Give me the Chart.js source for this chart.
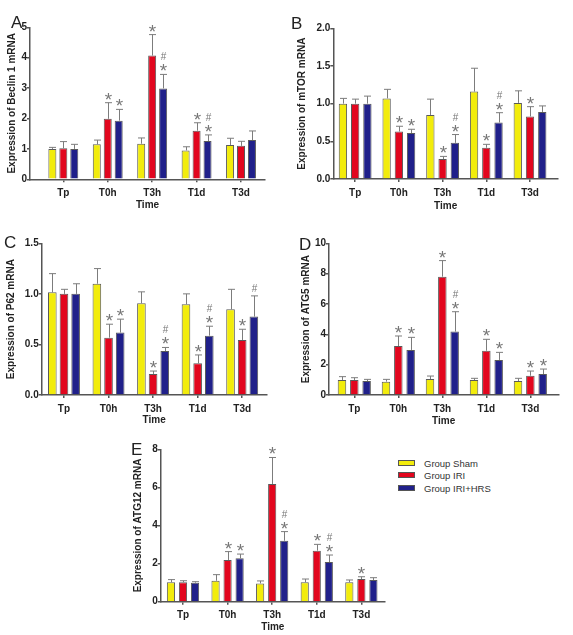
<!DOCTYPE html>
<html><head><meta charset="utf-8">
<script src="https://cdn.jsdelivr.net/npm/chart.js@4.4.1/dist/chart.umd.min.js"></script>
<style>
html,body{margin:0;padding:0;background:#fff;}
body{width:573px;height:635px;position:relative;overflow:hidden;font-family:"Liberation Sans",Arial,sans-serif;}
canvas{position:absolute;}
.lt{position:absolute;font-size:17px;line-height:17px;color:#222;}
.lg{position:absolute;left:398px;height:12px;line-height:12px;font-size:9.5px;color:#333;white-space:nowrap;}
.sw{display:inline-block;width:15px;height:4px;border:1px solid #555;vertical-align:middle;margin-right:9px;position:relative;top:-1px;}
</style></head><body>
<canvas id="cA"></canvas><canvas id="cB"></canvas><canvas id="cC"></canvas><canvas id="cD"></canvas><canvas id="cE"></canvas>
<div class="lt" style="left:11px;top:14px;">A</div>
<div class="lt" style="left:291px;top:15px;">B</div>
<div class="lt" style="left:4px;top:234px;">C</div>
<div class="lt" style="left:299px;top:236px;">D</div>
<div class="lt" style="left:131px;top:441px;">E</div>
<div id="legend"></div>
<script>
// ---------- data ----------
const categories = ['Tp', 'T0h', 'T3h', 'T1d', 'T3d'];
const seriesNames = ['Group Sham', 'Group IRI', 'Group IRI+HRS'];
const seriesColors = ['#f2ec0c', '#e2061e', '#20208a'];

// A: Beclin 1
const beclinSham = [1.00, 1.15, 1.17, 0.95, 1.13];
const beclinShamSD = [0.05, 0.14, 0.19, 0.12, 0.22];
const beclinIRI = [1.02, 1.99, 4.07, 1.60, 1.10];
const beclinIRISD = [0.22, 0.53, 0.69, 0.26, 0.15];
const beclinHRS = [1.00, 1.93, 2.99, 1.26, 1.29];
const beclinHRSSD = [0.15, 0.37, 0.46, 0.20, 0.30];
const beclinIRIMarks = ['', '*', '*', '*', ''];
const beclinHRSMarks = ['', '*', '#*', '#*', ''];

// B: mTOR
const mtorSham = [1.00, 1.07, 0.85, 1.16, 1.01];
const mtorShamSD = [0.07, 0.12, 0.21, 0.31, 0.16];
const mtorIRI = [1.00, 0.63, 0.265, 0.415, 0.83];
const mtorIRISD = [0.06, 0.07, 0.035, 0.045, 0.13];
const mtorHRS = [1.00, 0.61, 0.48, 0.75, 0.89];
const mtorHRSSD = [0.10, 0.05, 0.11, 0.13, 0.08];
const mtorIRIMarks = ['', '*', '*', '*', '*'];
const mtorHRSMarks = ['', '*', '#*', '#*', ''];

// C: P62
const p62Sham = [1.015, 1.10, 0.907, 0.897, 0.847];
const p62ShamSD = [0.185, 0.15, 0.113, 0.103, 0.198];
const p62IRI = [1.00, 0.567, 0.208, 0.313, 0.544];
const p62IRISD = [0.045, 0.133, 0.029, 0.083, 0.106];
const p62HRS = [1.00, 0.617, 0.435, 0.587, 0.775];
const p62HRSSD = [0.10, 0.133, 0.035, 0.093, 0.205];
const p62IRIMarks = ['', '*', '*', '*', '*'];
const p62HRSMarks = ['', '*', '#*', '#*', '#'];

// D: ATG5
const atg5Sham = [0.99, 0.88, 1.05, 0.99, 0.92];
const atg5ShamSD = [0.22, 0.15, 0.20, 0.11, 0.18];
const atg5IRI = [0.99, 3.23, 7.80, 2.92, 1.27];
const atg5IRISD = [0.15, 0.66, 1.06, 0.75, 0.31];
const atg5HRS = [0.92, 2.97, 4.18, 2.31, 1.38];
const atg5HRSSD = [0.11, 0.83, 1.31, 0.50, 0.33];
const atg5IRIMarks = ['', '*', '*', '*', '*'];
const atg5HRSMarks = ['', '*', '#*', '*', '*'];

// E: ATG12
const atg12Sham = [1.02, 1.10, 0.96, 1.02, 1.02];
const atg12ShamSD = [0.14, 0.32, 0.13, 0.17, 0.12];
const atg12IRI = [1.02, 2.19, 6.18, 2.68, 1.19];
const atg12IRISD = [0.08, 0.44, 1.39, 0.33, 0.12];
const atg12HRS = [1.00, 2.28, 3.20, 2.08, 1.14];
const atg12HRSSD = [0.05, 0.22, 0.48, 0.37, 0.12];
const atg12IRIMarks = ['', '*', '*', '*', '*'];
const atg12HRSMarks = ['', '*', '#*', '#*', ''];

const noMarks = ['', '', '', '', ''];

// ---------- plugin: error bars + significance marks ----------
const errorBarPlugin = {
  id: 'errorBars',
  afterDatasetsDraw(chart) {
    const ctx = chart.ctx, y = chart.scales.y;
    chart.data.datasets.forEach((ds, di) => {
      const meta = chart.getDatasetMeta(di);
      meta.data.forEach((bar, i) => {
        const top = y.getPixelForValue(ds.data[i] + ds.sd[i]);
        const x = Math.round(bar.x) + 0.5;
        ctx.save();
        ctx.strokeStyle = '#7c7c7c';
        ctx.lineWidth = 1;
        ctx.beginPath();
        ctx.moveTo(x, bar.y);
        ctx.lineTo(x, top);
        ctx.moveTo(x - 3.5, top);
        ctx.lineTo(x + 3.5, top);
        ctx.stroke();
        const mk = ds.marks[i] || '';
        let cy = top - 6.5;
        for (let k = mk.length - 1; k >= 0; k--) {
          const ch = mk[k];
          ctx.font = ch === '*' ? '19px "Liberation Sans"' : '10px "Liberation Sans"';
          ctx.fillStyle = '#777';
          ctx.textAlign = 'center';
          ctx.textBaseline = 'alphabetic';
          const m = ctx.measureText(ch);
          const off = (m.actualBoundingBoxAscent - m.actualBoundingBoxDescent) / 2;
          ctx.fillText(ch, x, (ch === '#' && k === mk.length - 1 ? cy - 1.5 : cy) + off);
          cy -= 11.5;
        }
        ctx.restore();
      });
    });
  }
};

const FONT = '"Liberation Sans", Arial, sans-serif';
const AX = '#555';

function makePanel(id, g, yTitle, yMax, yStep, dec, sets) {
  const cv = document.getElementById(id);
  cv.width = g.w; cv.height = g.h;
  cv.style.left = g.x + 'px'; cv.style.top = g.y + 'px';
  const yw = g.l - g.x, pt = g.t - g.y, pr = g.x + g.w - g.r, xh = g.y + g.h - g.b;
  const datasets = sets.map((s, k) => ({
    label: seriesNames[k], data: s[0], sd: s[1], marks: s[2],
    backgroundColor: seriesColors[k], borderColor: '#5a5a5a', borderWidth: 1,
    categoryPercentage: g.cp, barPercentage: g.bp
  }));
  return new Chart(cv, {
    type: 'bar',
    data: { labels: categories, datasets },
    plugins: [errorBarPlugin],
    options: {
      responsive: false, animation: false, devicePixelRatio: 1,
      layout: { padding: { left: 0, top: pt, right: pr, bottom: 0 } },
      plugins: { legend: { display: false }, tooltip: { enabled: false } },
      scales: {
        x: {
          type: 'category', offset: true,
          grid: { display: true, drawOnChartArea: false, drawTicks: true, tickLength: 3, offset: false, color: AX, lineWidth: 1.5 },
          border: { display: true, color: AX, width: 1.5 },
          ticks: { color: '#222', font: { family: FONT, size: 10, weight: 'bold' }, padding: 5, maxRotation: 0, autoSkip: false },
          title: { display: true, text: 'Time', color: '#222', font: { family: FONT, size: 10, weight: 'bold' }, padding: { top: 0, bottom: g.xtp } },
          afterFit: s => { s.height = xh; },
          afterBuildTicks: s => { s._startValue = -0.5 - g.lead; s._valueRange = categories.length + g.lead + g.trail; }
        },
        y: {
          min: 0, max: yMax,
          grid: { display: true, drawOnChartArea: false, drawTicks: true, tickLength: 3, color: AX, lineWidth: 1.5 },
          border: { display: true, color: AX, width: 1.5 },
          ticks: { stepSize: yStep, color: '#222', font: { family: FONT, size: 10, weight: 'bold' }, padding: 0,
                   callback: v => Number(v).toFixed(dec) },
          title: { display: true, text: yTitle, color: '#222', font: { family: FONT, size: 10, weight: 'bold' }, padding: { top: g.ytp, bottom: 0 } },
          afterFit: s => { s.width = yw; }
        }
      }
    }
  });
}

makePanel('cA', { x: 0, y: 0, w: 285, h: 215, l: 30, t: 27.3, r: 265, b: 179.3, lead: 0.25, trail: 0.04, cp: 0.74, bp: 0.73, ytp: 6.5, xtp: 4 },
  'Expression of Beclin 1 mRNA', 5, 1, 0,
  [[beclinSham, beclinShamSD, noMarks], [beclinIRI, beclinIRISD, beclinIRIMarks], [beclinHRS, beclinHRSSD, beclinHRSMarks]]);

makePanel('cB', { x: 285, y: 0, w: 288, h: 215, l: 333.3, t: 28.3, r: 558, b: 179, lead: 0, trail: 0.14, cp: 0.84, bp: 0.68, ytp: 11, xtp: 3 },
  'Expression of mTOR mRNA', 2, 0.5, 1,
  [[mtorSham, mtorShamSD, noMarks], [mtorIRI, mtorIRISD, mtorIRIMarks], [mtorHRS, mtorHRSSD, mtorHRSMarks]]);

makePanel('cC', { x: 0, y: 225, w: 285, h: 215, l: 41.7, t: 243.3, r: 266.7, b: 395, lead: 0, trail: 0.05, cp: 0.785, bp: 0.74, ytp: 5, xtp: 14 },
  'Expression of P62 mRNA', 1.5, 0.5, 1,
  [[p62Sham, p62ShamSD, noMarks], [p62IRI, p62IRISD, p62IRIMarks], [p62HRS, p62HRSSD, p62HRSMarks]]);

makePanel('cD', { x: 285, y: 225, w: 288, h: 215, l: 329, t: 243.3, r: 558.3, b: 395, lead: 0.075, trail: 0.135, cp: 0.84, bp: 0.69, ytp: 15.5, xtp: 13 },
  'Expression of ATG5 mRNA', 10, 2, 0,
  [[atg5Sham, atg5ShamSD, noMarks], [atg5IRI, atg5IRISD, atg5IRIMarks], [atg5HRS, atg5HRSSD, atg5HRSMarks]]);

makePanel('cE', { x: 130, y: 430, w: 260, h: 205, l: 160.7, t: 449.3, r: 385, b: 601.7, lead: 0, trail: 0.03, cp: 0.81, bp: 0.68, ytp: 2, xtp: 1.5 },
  'Expression of ATG12 mRNA', 8, 2, 0,
  [[atg12Sham, atg12ShamSD, noMarks], [atg12IRI, atg12IRISD, atg12IRIMarks], [atg12HRS, atg12HRSSD, atg12HRSMarks]]);

// legend
const lg = document.getElementById('legend');
const rowTops = [457.5, 470, 482.5];
seriesNames.forEach((n, k) => {
  const d = document.createElement('div');
  d.className = 'lg';
  d.style.top = rowTops[k] + 'px';
  d.innerHTML = '<span class="sw" style="background:' + seriesColors[k] + '"></span>' + n;
  lg.appendChild(d);
});
</script>
</body></html>
